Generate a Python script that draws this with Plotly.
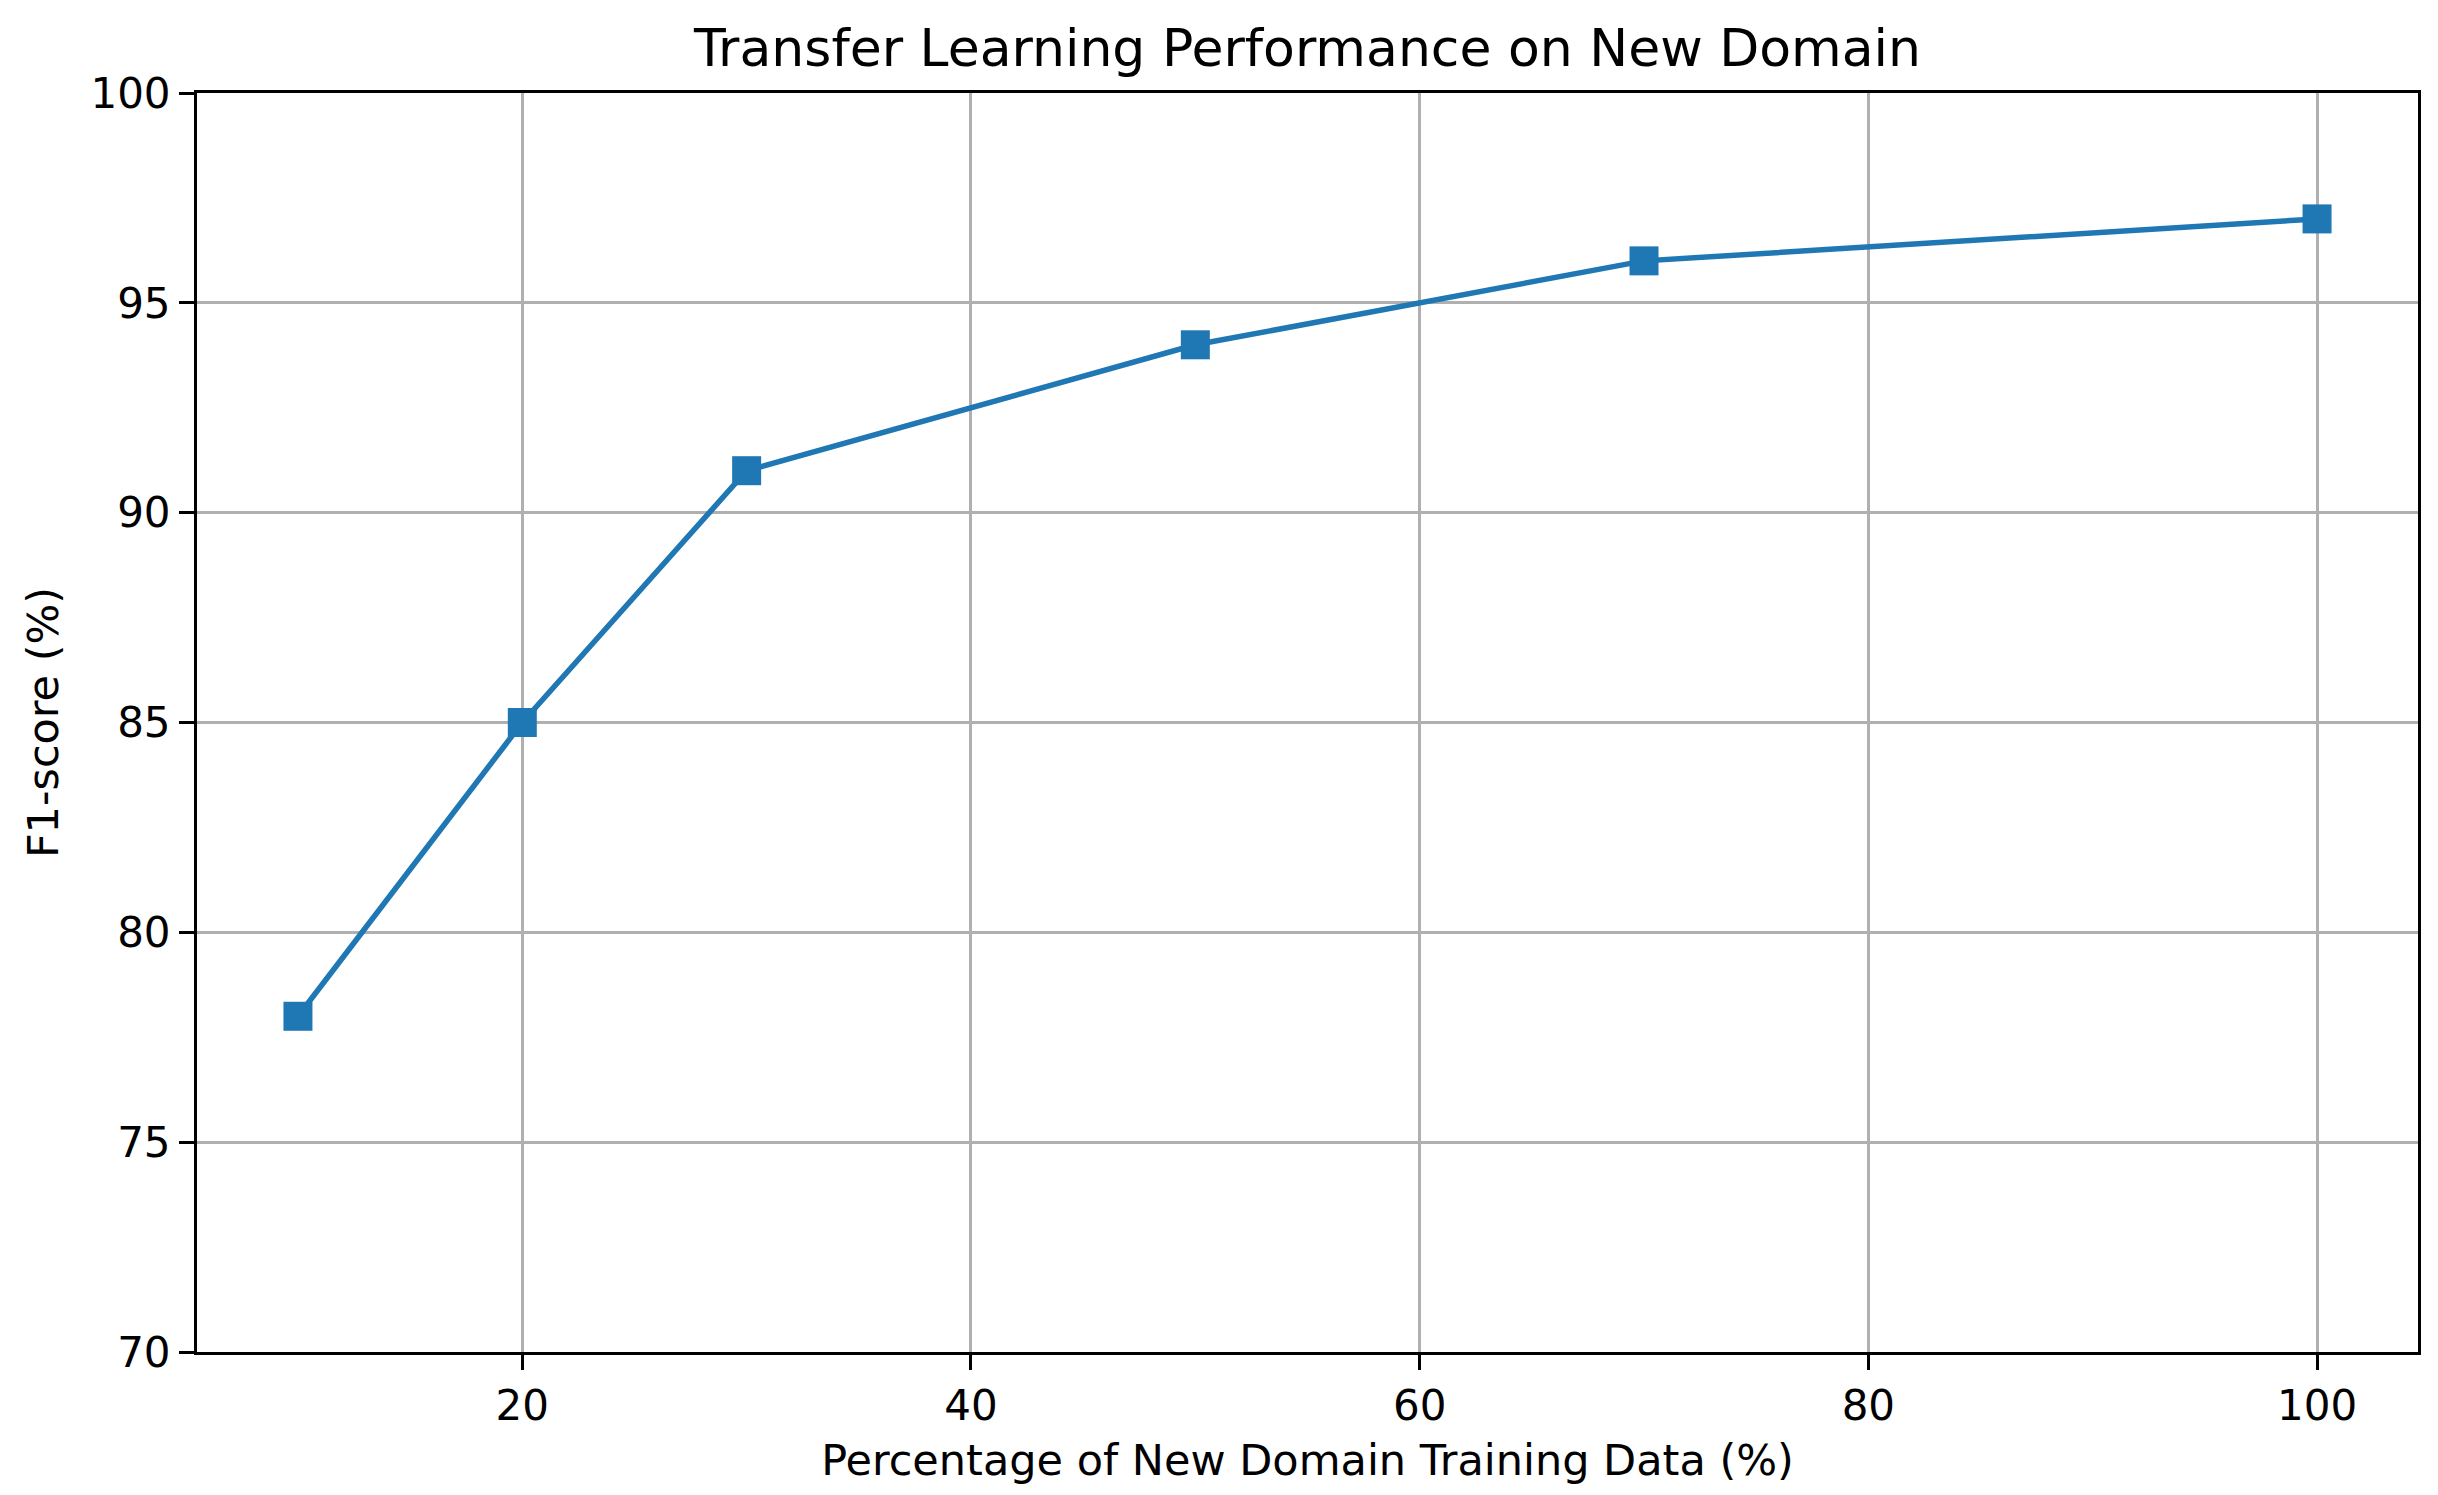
import plotly.graph_objects as go

pct_data = [10, 20, 30, 50, 70, 100]
f1_scores = [78, 85, 91, 94, 96, 97]
x_ticks = [20, 40, 60, 80, 100]
y_ticks = [70, 75, 80, 85, 90, 95, 100]

FONT = "DejaVu Sans"

fig = go.Figure()
fig.add_trace(go.Scatter(
    x=pct_data, y=f1_scores, mode="lines+markers",
    line=dict(color="#1f77b4", width=5.5),
    marker=dict(symbol="square", size=29, color="#1f77b4"),
    showlegend=False,
))

axis_common = dict(
    showline=True, mirror=True, linecolor="black", linewidth=3,
    showgrid=True, gridcolor="#b0b0b0", gridwidth=2.5,
    ticks="outside", ticklen=15, tickwidth=3, tickcolor="black",
    tickfont=dict(family=FONT, size=42, color="black"),
    zeroline=False,
)

fig.update_xaxes(
    range=[5.5, 104.5], tickvals=x_ticks,
    title=dict(text="Percentage of New Domain Training Data (%)",
               font=dict(family=FONT, size=43, color="black"), standoff=16),
    **axis_common,
)
fig.update_yaxes(
    range=[70, 100], tickvals=y_ticks,
    title=dict(text="F1-score (%)",
               font=dict(family=FONT, size=43, color="black"), standoff=19),
    **axis_common,
)

fig.update_layout(
    width=2438, height=1495,
    margin=dict(l=189, r=28, t=85, b=151),
    paper_bgcolor="white", plot_bgcolor="white",
    title=dict(text="Transfer Learning Performance on New Domain",
               font=dict(family=FONT, size=52, color="black"),
               x=0.5, xanchor="center", xref="paper", y=1 - 40/1495, yanchor="middle"),
    font=dict(family=FONT, color="black"),
)

fig.write_html("out.html")
